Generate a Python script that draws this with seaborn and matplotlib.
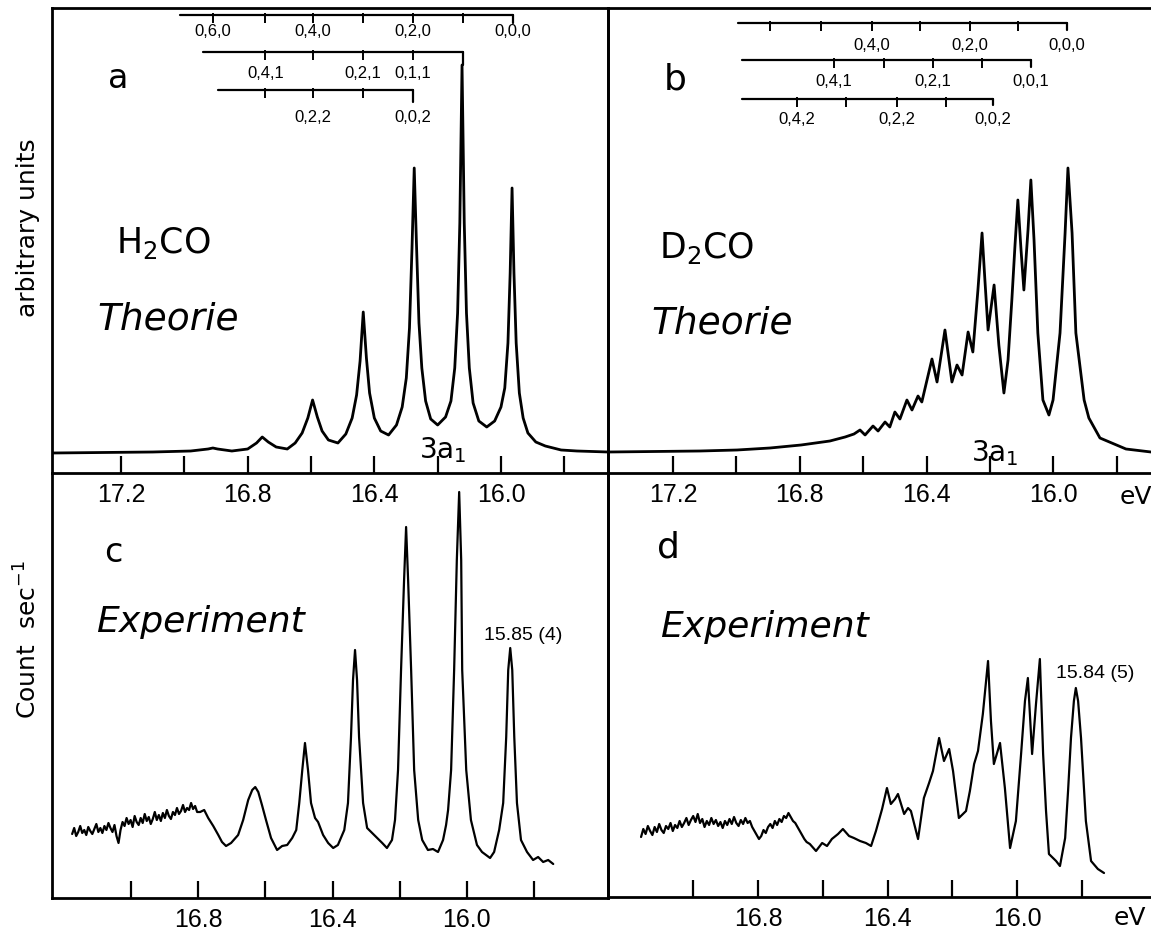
import matplotlib
matplotlib.use("Agg")
import matplotlib.pyplot as plt
import seaborn as sns
import pandas as pd

# ---------------- data ----------------
# Panel a: H2CO theory  (energy in eV, intensity in arbitrary units)
energy_a = [15.662, 15.76, 15.81, 15.86, 15.89, 15.915, 15.93, 15.942, 15.952, 15.959, 15.965,
            15.971, 15.978, 15.988, 16.0, 16.02, 16.045, 16.07, 16.088, 16.1, 16.109, 16.116,
            16.123, 16.13, 16.137, 16.146, 16.158, 16.175, 16.2, 16.222, 16.238, 16.25, 16.259,
            16.267, 16.274, 16.281, 16.289, 16.299, 16.312, 16.33, 16.355, 16.38, 16.4, 16.415,
            16.425, 16.435, 16.445, 16.456, 16.47, 16.49, 16.515, 16.545, 16.565, 16.58, 16.595,
            16.61, 16.628, 16.65, 16.675, 16.71, 16.735, 16.754, 16.772, 16.8, 16.85, 16.895,
            16.91, 16.925, 16.98, 17.1, 17.418]
intens_a = [21, 22, 23, 27, 31, 40, 55, 80, 130, 200, 285,
            200, 130, 85, 66, 52, 46, 52, 70, 105, 160, 250,
            408, 250, 160, 105, 72, 56, 48, 54, 72, 105, 150,
            230, 305, 225, 145, 95, 66, 48, 38, 42, 55, 80,
            115, 161, 112, 78, 55, 39, 30, 33, 42, 56, 73,
            55, 40, 30, 24, 26, 31, 36, 30, 24, 22, 24,
            25, 24, 22, 21, 20]

# Panel b: D2CO theory
energy_b = [17.405, 17.115, 16.998, 16.894, 16.796, 16.705, 16.657, 16.629, 16.61, 16.594,
            16.569, 16.553, 16.531, 16.516, 16.5, 16.484, 16.462, 16.446, 16.427, 16.415,
            16.383, 16.367, 16.342, 16.32, 16.304, 16.288, 16.269, 16.254, 16.238, 16.225,
            16.216, 16.206, 16.187, 16.172, 16.156, 16.143, 16.131, 16.121, 16.112, 16.102,
            16.093, 16.08, 16.071, 16.061, 16.049, 16.033, 16.014, 16.001, 15.979, 15.963,
            15.954, 15.941, 15.929, 15.903, 15.888, 15.853, 15.771, 15.692]
intens_b = [21, 22, 23, 25, 28, 32, 36, 39, 43, 38,
            47, 42, 51, 46, 61, 54, 73, 63, 77, 71,
            114, 91, 143, 91, 108, 98, 141, 121, 183, 240,
            193, 143, 188, 128, 80, 113, 173, 228, 273, 223,
            183, 243, 293, 233, 140, 73, 58, 73, 140, 240,
            305, 240, 140, 73, 55, 35, 24, 21]

# Panel c: H2CO experiment (count rate, arbitrary)
energy_c = [17.175, 17.169, 17.163, 17.157, 17.151, 17.145, 17.139, 17.133, 17.127, 17.121,
            17.115, 17.109, 17.103, 17.097, 17.091, 17.085, 17.079, 17.073, 17.067, 17.061,
            17.055, 17.049, 17.043, 17.037, 17.031, 17.025, 17.019, 17.013, 17.007, 17.001,
            16.995, 16.989, 16.983, 16.977, 16.971, 16.965, 16.959, 16.953, 16.947, 16.941,
            16.935, 16.929, 16.923, 16.917, 16.911, 16.905, 16.899, 16.893, 16.887, 16.881,
            16.875, 16.869, 16.863, 16.857, 16.851, 16.845, 16.839, 16.833, 16.827, 16.821,
            16.815, 16.809, 16.803,
            16.794, 16.782, 16.77, 16.755, 16.74, 16.729, 16.717, 16.702, 16.681, 16.666,
            16.651, 16.639, 16.63, 16.621, 16.61, 16.598, 16.583, 16.565, 16.55, 16.535,
            16.52, 16.508, 16.499, 16.49, 16.482, 16.473, 16.464, 16.452, 16.443, 16.428,
            16.413, 16.398, 16.384, 16.365, 16.354, 16.345, 16.339, 16.333, 16.327, 16.321,
            16.309, 16.297, 16.282, 16.267, 16.252, 16.238, 16.223, 16.214, 16.205, 16.196,
            16.187, 16.181, 16.175, 16.166, 16.157, 16.145, 16.133, 16.116, 16.101, 16.086,
            16.071, 16.062, 16.056, 16.047, 16.038, 16.03, 16.023, 16.017, 16.014, 16.002,
            15.988, 15.97, 15.955, 15.943, 15.931, 15.919, 15.904, 15.892, 15.883, 15.877,
            15.871, 15.865, 15.859, 15.851, 15.839, 15.821, 15.803, 15.788, 15.773, 15.758,
            15.743]
counts_c = [64, 70, 62, 66, 72, 65, 68, 63, 71, 67,
            64, 69, 74, 66, 70, 65, 72, 68, 75, 70,
            66, 73, 62, 55, 68, 76, 72, 80, 74, 78,
            71, 82, 76, 73, 80, 75, 84, 77, 81, 74,
            79, 86, 78, 83, 77, 85, 80, 88, 82, 79,
            86, 83, 90, 84, 87, 93, 86, 90, 88, 95,
            89, 92, 86,
            86, 88, 80, 72, 63, 56, 52, 55, 63, 78,
            98, 108, 111, 106, 93, 78, 60, 48, 52, 53,
            60, 68, 95, 128, 155, 128, 95, 80, 76, 63,
            55, 50, 53, 68, 95, 161, 218, 248, 218, 161,
            95, 70, 65, 60, 55, 50, 58, 78, 128, 228,
            318, 371, 318, 228, 128, 78, 58, 48, 49, 46,
            58, 73, 88, 128, 228, 338, 406, 338, 228, 128,
            78, 53, 46, 43, 40, 46, 68, 95, 161, 228,
            250, 228, 161, 95, 58, 46, 38, 41, 36, 38,
            34]

# Panel d: D2CO experiment
energy_d = [17.161, 17.154, 17.147, 17.14, 17.133, 17.126, 17.119, 17.112, 17.105, 17.098,
            17.091, 17.084, 17.077, 17.07, 17.063, 17.056, 17.049, 17.042, 17.035, 17.028,
            17.021, 17.014, 17.007, 17.0, 16.993, 16.986, 16.979, 16.972, 16.965, 16.958,
            16.951, 16.944, 16.937, 16.93, 16.923, 16.916, 16.909, 16.902, 16.895, 16.888,
            16.881, 16.874, 16.867, 16.86, 16.853, 16.846, 16.839, 16.832, 16.825, 16.818,
            16.811, 16.804, 16.797, 16.79, 16.783, 16.776, 16.769, 16.762, 16.755, 16.748,
            16.741, 16.734, 16.727, 16.72, 16.713, 16.706, 16.699, 16.692, 16.685, 16.678,
            16.671, 16.664, 16.657, 16.65,
            16.64, 16.621, 16.602, 16.587, 16.572, 16.553, 16.538, 16.519, 16.504, 16.485,
            16.467, 16.451, 16.436, 16.417, 16.402, 16.39, 16.377, 16.368, 16.349, 16.337,
            16.328, 16.306, 16.288, 16.272, 16.26, 16.241, 16.226, 16.21, 16.198, 16.18,
            16.158, 16.146, 16.133, 16.121, 16.106, 16.09, 16.081, 16.072, 16.053, 16.038,
            16.022, 16.004, 15.988, 15.976, 15.967, 15.954, 15.942, 15.93, 15.92, 15.911,
            15.902, 15.88, 15.868, 15.852, 15.843, 15.834, 15.825, 15.819, 15.812, 15.803,
            15.788, 15.772, 15.751, 15.732]
counts_d = [60, 68, 63, 71, 66, 62, 70, 65, 73, 67,
            64, 71, 68, 74, 66, 72, 69, 76, 70, 74,
            79, 72, 77, 81, 75, 83, 74, 78, 70, 76,
            72, 79, 73, 77, 71, 75, 69, 76, 72, 78,
            73, 80, 74, 71, 77, 73, 79, 74, 76, 70,
            66, 62, 58, 61, 67, 64, 70, 73, 69, 76,
            72, 78, 75, 81, 79, 84, 80, 76, 74, 70,
            66, 62, 58, 55,
            53, 46, 54, 51, 58, 63, 68, 61, 59, 56,
            54, 51, 66, 88, 109, 93, 98, 103, 83, 89,
            86, 58, 99, 114, 126, 159, 136, 148, 126, 79,
            86, 106, 133, 146, 183, 236, 176, 133, 154, 109,
            49, 76, 143, 196, 219, 143, 193, 238, 143, 86,
            43, 36, 31, 59, 106, 159, 196, 209, 196, 159,
            76, 36, 28, 24]

# Vibrational progression combs (level energies, eV) and their labels
comb_a_rows = [
    dict(start=17.013, end=15.962, ticks=[16.12, 16.278, 16.435, 16.593, 16.744, 16.909],
         lab_e=[16.909, 16.593, 16.278, 15.962], labels=["0,6,0", "0,4,0", "0,2,0", "0,0,0"]),
    dict(start=16.94, end=16.12, ticks=[16.278, 16.435, 16.593, 16.744],
         lab_e=[16.744, 16.435, 16.278], labels=["0,4,1", "0,2,1", "0,1,1"]),
    dict(start=16.893, end=16.278, ticks=[16.435, 16.593, 16.744],
         lab_e=[16.593, 16.278], labels=["0,2,2", "0,0,2"]),
]
comb_b_rows = [
    dict(start=16.996, end=15.957, ticks=[16.112, 16.263, 16.421, 16.572, 16.733, 16.894],
         lab_e=[16.572, 16.263, 15.957], labels=["0,4,0", "0,2,0", "0,0,0"]),
    dict(start=16.982, end=16.071, ticks=[16.225, 16.38, 16.534, 16.692],
         lab_e=[16.692, 16.38, 16.071], labels=["0,4,1", "0,2,1", "0,0,1"]),
    dict(start=16.982, end=16.19, ticks=[16.339, 16.493, 16.654, 16.809],
         lab_e=[16.809, 16.493, 16.19], labels=["0,4,2", "0,2,2", "0,0,2"]),
]

major_top = [17.2, 16.8, 16.4, 16.0]
minor_top = [17.0, 16.6, 16.2, 15.8]
major_bot = [16.8, 16.4, 16.0]
minor_bot = [17.0, 16.6, 16.2, 15.8]

# ---------------- style ----------------
sns.set_style("white")
plt.rcParams['font.family'] = ['DejaVu Sans']
plt.rcParams['text.color'] = 'black'
plt.rcParams['xtick.color'] = 'black'
plt.rcParams['xtick.labelcolor'] = 'black'
NARROW = ['Liberation Sans', 'DejaVu Sans']

W, H = 1151, 935
fig = plt.figure(figsize=(W / 100, H / 100), dpi=100)
fig.patch.set_facecolor("white")


def box(l, t, r, b):
    return [l / W, 1 - b / H, (r - l) / W, (b - t) / H]


def ftext(x, y, s, **kw):
    kw.setdefault("ha", "center")
    kw.setdefault("va", "center")
    kw.setdefault("color", "black")
    fig.text(x / W, 1 - y / H, s, **kw)


ax_a = fig.add_axes(box(52, 8, 608, 473))
ax_b = fig.add_axes(box(608, 8, 1151, 473))
ax_c = fig.add_axes(box(52, 473, 608, 898))
ax_d = fig.add_axes(box(608, 473, 1151, 897))

panels = [
    (ax_a, energy_a, intens_a, (17.418, 15.662), 465, major_top, minor_top, 2.0),
    (ax_b, energy_b, intens_b, (17.405, 15.692), 465, major_top, minor_top, 2.0),
    (ax_c, energy_c, counts_c, (17.235, 15.580), 425, major_bot, minor_bot, 1.6),
    (ax_d, energy_d, counts_d, (17.263, 15.587), 424, major_bot, minor_bot, 1.6),
]
for ax, ex, iy, xl, ytop, maj, mnr, lw in panels:
    df = pd.DataFrame({"E": ex, "I": iy})
    sns.lineplot(data=df, x="E", y="I", ax=ax, color="black", lw=lw,
                 sort=False, estimator=None)
    ax.set_xlim(*xl)
    ax.set_ylim(0, ytop)
    ax.set_xlabel("")
    ax.set_ylabel("")
    ax.set_yticks([])
    ax.set_xticks(maj)
    ax.set_xticks(mnr, minor=True)
    ax.set_xticklabels([f"{v:.1f}" for v in maj], fontsize=18, family=NARROW,
                       color="black")
    ax.tick_params(axis="x", which="both", direction="in", length=12, width=1.6,
                   color="black", pad=7, bottom=True)
    for s in ax.spines.values():
        s.set_color("black")
        s.set_linewidth(2.0)
    ax.patch.set_alpha(0)

ax_b.spines["right"].set_visible(False)
ax_d.spines["right"].set_visible(False)
ax_c.spines["top"].set_visible(False)
ax_d.spines["top"].set_visible(False)


def draw_comb(ax, rows, line_px, lab_px, drop_to):
    for i, row in enumerate(rows):
        v = 473 - line_px[i]
        ax.plot([row["start"], row["end"]], [v, v], color="black", lw=1.6)
        ax.plot([row["end"], row["end"]], [v, drop_to[i]], color="black", lw=1.6)
        ax.vlines(row["ticks"], v - 8, v + 2, color="black", lw=1.4)
        for e, t in zip(row["lab_e"], row["labels"]):
            ax.text(e, 473 - lab_px[i], t, ha="center", va="center", fontsize=12,
                    family=NARROW, color="black")


draw_comb(ax_a, comb_a_rows, [15, 52, 90], [32, 74, 117], [450, 408, 371])
draw_comb(ax_b, comb_b_rows, [23, 60, 99], [45, 82, 120], [443, 406, 368])

# ---------------- texts ----------------
ftext(28, 228, "arbitrary units", rotation=90, fontsize=18)
ftext(28, 640, "Count  sec$^{-1}$", rotation=90, fontsize=18)

ftext(118, 78, "a", fontsize=24)
ftext(675, 80, "b", fontsize=26)
ftext(113, 553, "c", fontsize=24)
ftext(668, 548, "d", fontsize=26)

ftext(163, 243, "H$_2$CO", fontsize=25)
ftext(707, 248, "D$_2$CO", fontsize=25)
ftext(168, 320, "Theorie", fontsize=27, style="italic")
ftext(722, 323, "Theorie", fontsize=27, style="italic")
ftext(200, 622, "Experiment", fontsize=26, style="italic")
ftext(764, 627, "Experiment", fontsize=26, style="italic")

ftext(443, 450, "3a$_1$", fontsize=20)
ftext(995, 453, "3a$_1$", fontsize=20)

ftext(523, 635, "15.85 (4)", fontsize=14, family=NARROW)
ftext(1095, 673, "15.84 (5)", fontsize=14, family=NARROW)

ftext(1136, 497, "eV", fontsize=18)
ftext(1130, 918, "eV", fontsize=18)

fig.savefig("out.png", dpi=100, facecolor="white")
